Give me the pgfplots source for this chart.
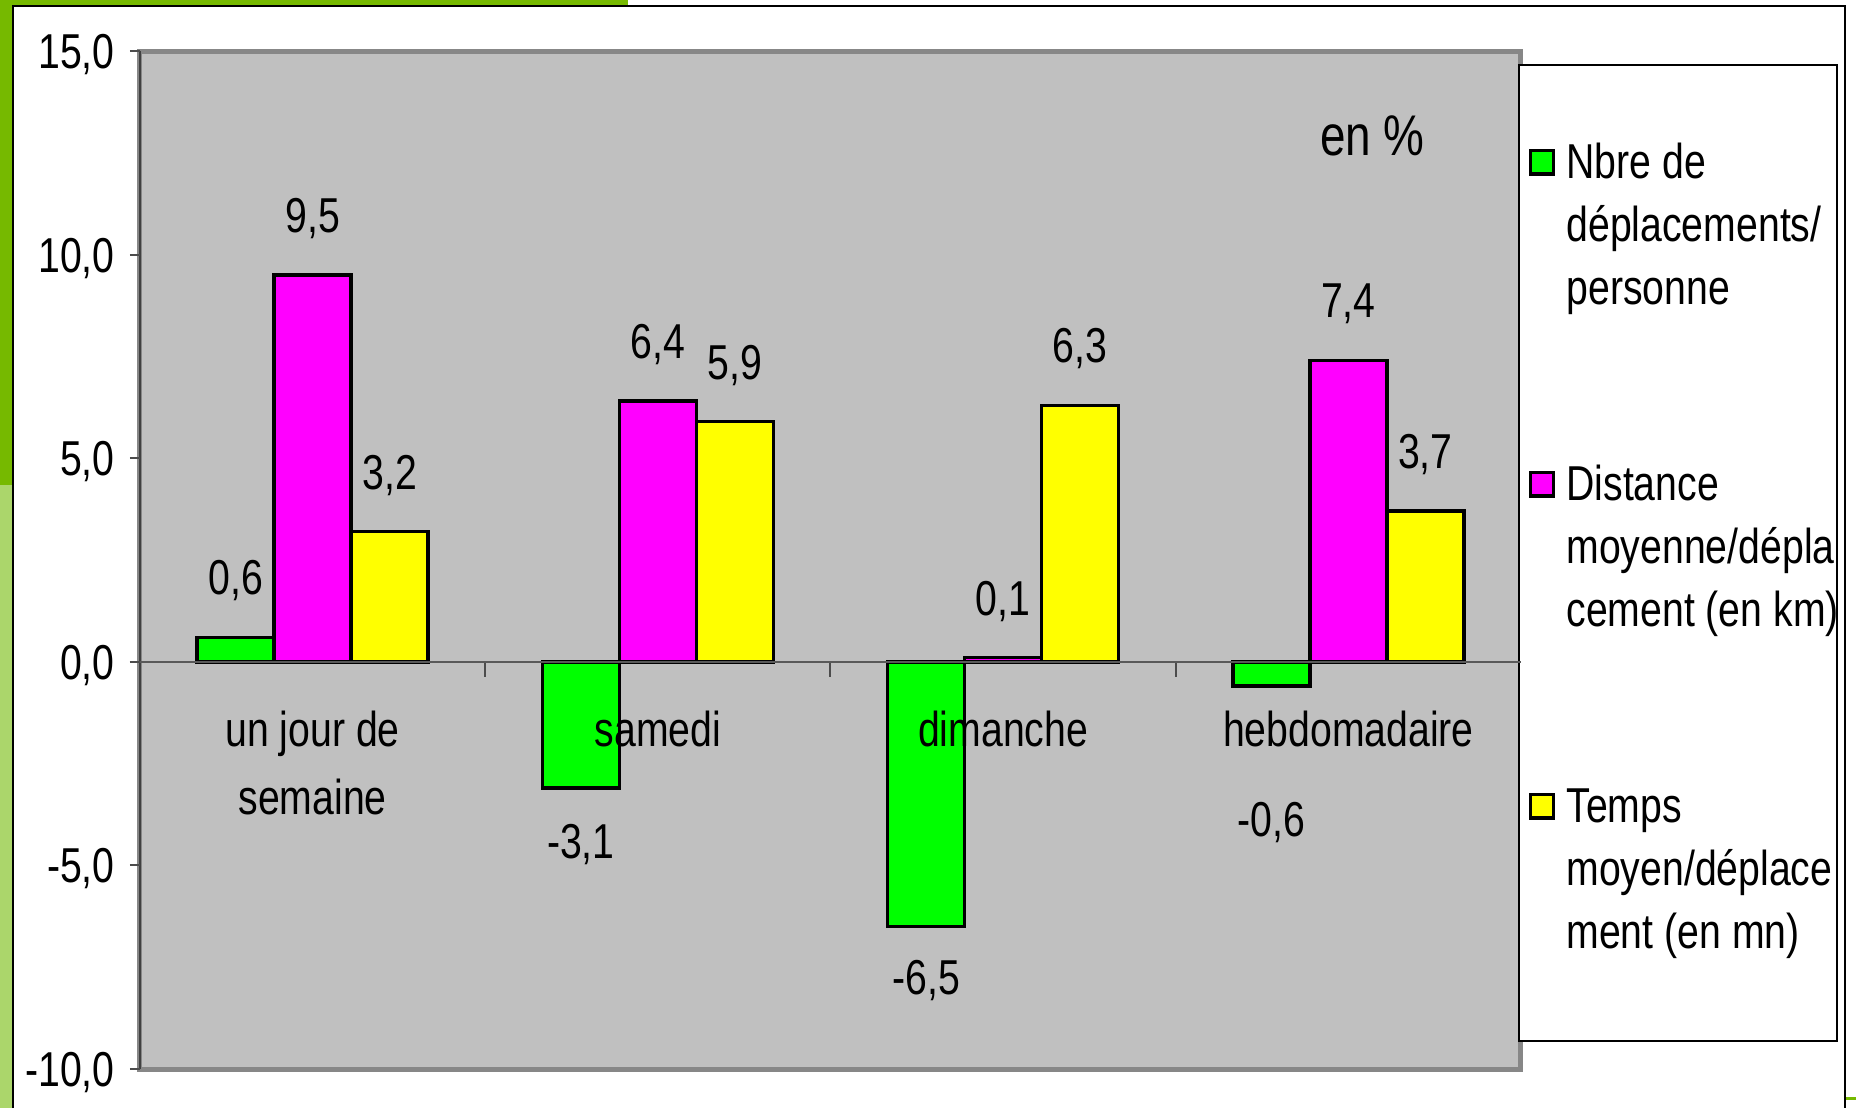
\documentclass[border=0pt]{standalone}
\usepackage{fontspec}
\setmainfont{Liberation Sans}[FakeStretch=0.8]
\usepackage{pgfplots}
\usepackage{pgfplotstable}
\pgfplotsset{compat=1.18}
\definecolor{bggray}{HTML}{C0C0C0}
\definecolor{dkgreen}{HTML}{76B900}
\definecolor{ltgreen}{HTML}{ABD66B}
\definecolor{bgreen}{HTML}{00FF00}
\definecolor{bmag}{HTML}{FF00FF}
\definecolor{byel}{HTML}{FFFF00}
\newcommand\cf{\fontsize{14.7pt}{20.4pt}\selectfont}
\newcommand\lf{\fontsize{14.7pt}{19pt}\selectfont}
\newcommand\lt[3]{\begin{tabular}[t]{@{}l@{}}#1\\#2\\#3\end{tabular}}

\pgfplotstableread{
x y dy
0 0.6 18
1 -3.1 -15.9
2 -6.5 -15.3
3 -0.6 -39.75
}\nbre
\pgfplotstableread{
x y dy
0 9.5 18
1 6.4 18
2 0.1 18
3 7.4 18
}\dist
\pgfplotstableread{
x y dy
0 3.2 18
1 5.9 18
2 6.3 18
3 3.7 18
}\temps

\pgfplotsset{
  lbl/.style={
    every node near coord/.append style={anchor=center, inner sep=0pt, text height=10.5pt, text depth=0pt, yshift=\dy, font=\cf, text=black}
  },
  leg/.style={
    legend image code/.code={\draw[##1, line width=1.05pt] (-0.7pt,-4.65pt) rectangle (6.2pt,2.4pt);}
  }
}

\begin{document}
\begin{tikzpicture}
\useasboundingbox (0,0) rectangle (556.8pt,332.4pt);
\fill[dkgreen] (0,330.6pt) rectangle (188.4pt,332.4pt);
\fill[dkgreen] (0,186.9pt) rectangle (3.6pt,332.4pt);
\fill[ltgreen] (0,0) rectangle (3.6pt,186.9pt);
\draw[black,line width=0.6pt] (3.9pt,0) -- (3.9pt,330.6pt) -- (553.5pt,330.6pt) -- (553.5pt,0);
\fill[dkgreen] (553.8pt,2.4pt) rectangle (556.8pt,3.3pt);

\begin{axis}[
  axis on top,
  at={(42pt,11.7pt)}, anchor=south west,
  scale only axis, width=414.3pt, height=305.4pt,
  clip=false,
  xmin=-0.5, xmax=3.5, ymin=-10, ymax=15,
  axis background/.style={fill=bggray},
  axis line style={draw=none},
  ytick={-10,-5,0,5,10,15},
  ytick pos=left,
  tick align=outside,
  major tick length=3pt,
  tick style={black!70, line width=0.6pt},
  /pgf/number format/.cd, fixed, fixed zerofill, precision=1, use comma, assume math mode=true,
  /pgfplots/.cd,
  yticklabel style={font=\cf, inner sep=0pt, text height=10.5pt, text depth=0pt, xshift=-4.4pt},
  extra y ticks={0},
  extra y tick labels={},
  extra y tick style={grid=major, major grid style={black!65, line width=0.6pt}},
  xtick={0,1,2,3},
  xticklabels={{\begin{tabular}[t]{@{}c@{}}un jour de\\semaine\end{tabular}}, samedi, dimanche, hebdomadaire},
  xtick style={draw=none},
  xticklabel style={font=\cf, anchor=base, inner sep=0pt, yshift=99.8pt},
  ybar=0pt, bar width=0.223,
  point meta=y,
  nodes near coords={\pgfmathprintnumber[fixed,fixed zerofill,precision=1,use comma,assume math mode=true]{\pgfplotspointmeta}},
  visualization depends on={\thisrow{dy} \as \dy},
  legend style={at={(1.00507,0.9194)}, anchor=north west, draw=none, fill=none, inner sep=0pt,
    row sep=81.8pt, column sep=3.4pt,
    nodes={inner sep=0pt, font=\lf}},
  legend cell align=left,
]
\addplot[fill=bgreen, draw=black, line width=1.05pt, lbl, leg] table[x=x,y=y]{\nbre};
\addplot[fill=bmag, draw=black, line width=1.05pt, lbl, leg] table[x=x,y=y]{\dist};
\addplot[fill=byel, draw=black, line width=1.05pt, lbl, leg] table[x=x,y=y]{\temps};
\draw[black!47, line width=1.5pt] (rel axis cs:0,0) rectangle (rel axis cs:1,1);
\draw[black!75, line width=0.7pt] (rel axis cs:0,0) -- (rel axis cs:0,1);
\draw[black!70, line width=0.6pt] (axis cs:0.5,0) -- ++(0pt,-4.5pt);
\draw[black!70, line width=0.6pt] (axis cs:1.5,0) -- ++(0pt,-4.5pt);
\draw[black!70, line width=0.6pt] (axis cs:2.5,0) -- ++(0pt,-4.5pt);
\draw[black, line width=0.5pt, fill=white] (rel axis cs:0.99855,0.98625) rectangle (rel axis cs:1.22882,0.0275);
\node[font=\fontsize{17.2pt}{20pt}\selectfont, inner sep=0pt] at (axis cs:3.07,12.91) {en \%};
\legend{{\lt{Nbre de}{déplacements/}{personne}},{\lt{Distance}{moyenne/dépla}{cement (en km)}},{\lt{Temps}{moyen/déplace}{ment (en mn)}}}
\end{axis}
\end{tikzpicture}
\end{document}
